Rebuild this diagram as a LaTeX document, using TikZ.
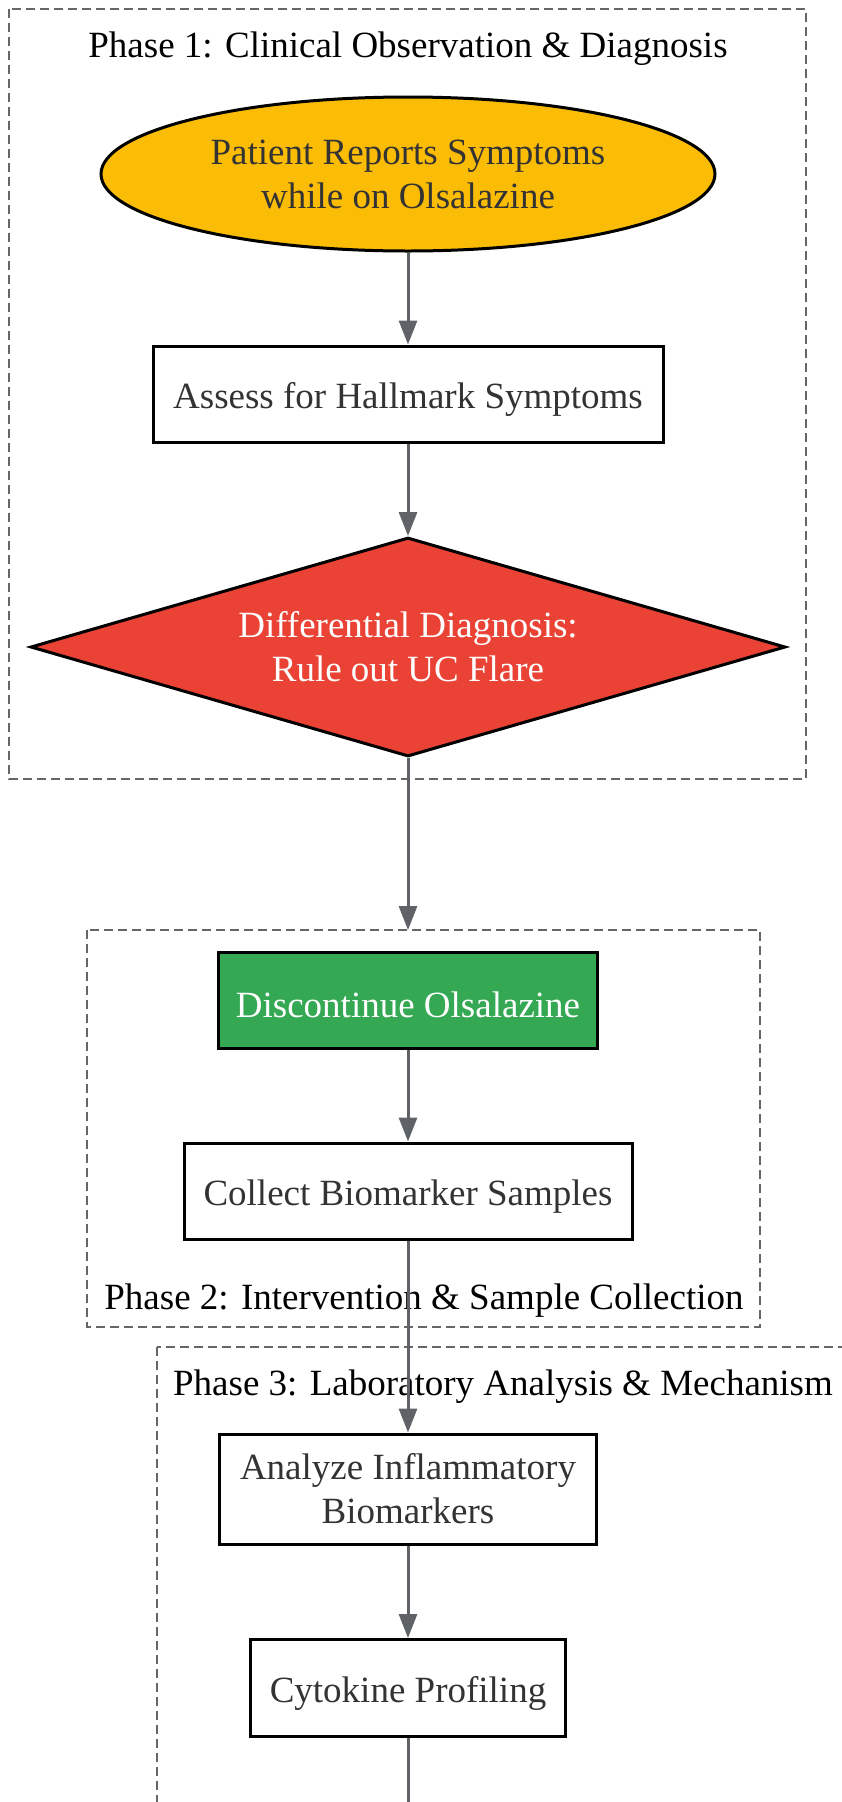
\documentclass[tikz,border=0pt]{standalone}
\usepackage{fontspec}
\setmainfont{Liberation Serif}
\usetikzlibrary{shapes.geometric,arrows.meta}
\definecolor{gyellow}{HTML}{FBBC05}
\definecolor{gred}{HTML}{EA4335}
\definecolor{ggreen}{HTML}{34A853}
\definecolor{edgegray}{HTML}{5F6368}
\definecolor{clustergray}{HTML}{666666}
\definecolor{txtgray}{HTML}{333333}
\begin{document}
\begin{tikzpicture}[x=1pt,y=-1pt,
  cluster/.style={draw=clustergray,line width=2pt,dash pattern=on 9pt off 5pt},
  clabel/.style={font=\fontsize{37}{44}\selectfont,text=black,inner sep=0},
  box/.style={draw=black,line width=3pt,fill=white,inner sep=0,align=center,
     font=\fontsize{37}{44}\selectfont,text=txtgray,
     execute at begin node={\rule{0pt}{36pt}}},
  conn/.style={draw=edgegray,line width=3pt,-{Triangle[length=24pt,width=18pt]}}]
\useasboundingbox (0,0) rectangle (842,1802);
% clusters
\draw[cluster] (9,9) rectangle (806,779);
\node[clabel] (t1) at (408,48.5) {Phase 1: Clinical Observation \& Diagnosis};
\draw[cluster] (87,930) rectangle (760,1327);
\node[clabel] (t2) at (424,1300.5) {Phase 2: Intervention \& Sample Collection};
\draw[cluster] (157,1347) rectangle (852,1830);
\node[clabel] (t3) at (503,1386.5) {Phase 3: Laboratory Analysis \& Mechanism};
% nodes
\node[box,ellipse,fill=gyellow,minimum width=614pt,minimum height=154pt] (a) at (408,174) {Patient Reports Symptoms\\while on Olsalazine};
\node[box,minimum width=510pt,minimum height=96pt] (b) at (408,394) {Assess for Hallmark Symptoms};
\node[box,diamond,shape aspect=3.45,fill=gred,text=white,minimum width=755pt,minimum height=219pt] (c) at (408,647) {Differential Diagnosis:\\Rule out UC Flare};
\node[box,fill=ggreen,text=white,minimum width=379pt,minimum height=96pt] (d) at (408,1000) {Discontinue Olsalazine};
\node[box,minimum width=448pt,minimum height=96pt] (e) at (408,1191) {Collect Biomarker Samples};
\node[box,minimum width=377pt,minimum height=110pt] (f) at (408,1489) {Analyze Inflammatory\\Biomarkers};
\node[box,minimum width=315pt,minimum height=97pt] (g) at (408,1688) {Cytokine Profiling};
\coordinate (p2top) at (408,930);
\coordinate (next) at (408,1830);
% edges
\draw[conn] (a) -- (b);
\draw[conn] (b) -- (c);
\draw[conn] (c) -- (p2top);
\draw[conn] (d) -- (e);
\draw[conn] (e) -- (f);
\draw[conn] (f) -- (g);
\draw[conn] (g) -- (next);
\end{tikzpicture}
\end{document}
